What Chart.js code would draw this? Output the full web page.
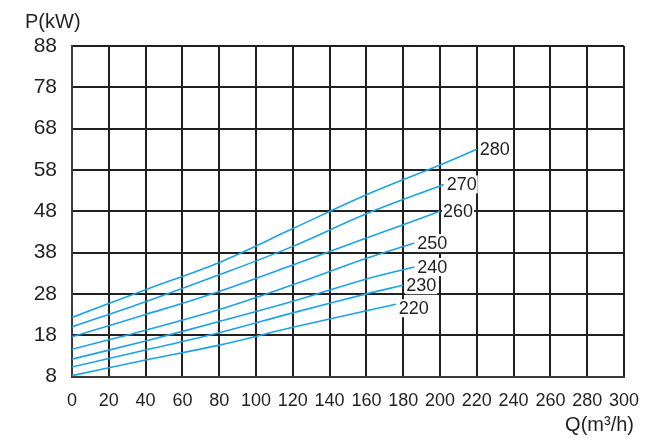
<!DOCTYPE html>
<html>
<head>
<meta charset="utf-8">
<script src="https://cdn.jsdelivr.net/npm/chart.js@4.4.1/dist/chart.umd.min.js"></script>
<style>
  html, body { margin: 0; padding: 0; background: #fff; }
  #wrap { width: 648px; height: 442px; position: relative; }
</style>
</head>
<body>
<div id="wrap"><canvas id="myChart"></canvas></div>
<script>
// Impeller diameters (curve labels)
const curveNames = ['220', '230', '240', '250', '260', '270', '280'];

// Flow Q (m3/h) and power P (kW)
const q220 = [0, 40, 80, 120, 160, 176];
const p220 = [8.2, 12.0, 15.6, 19.9, 23.9, 25.5];
const q230 = [0, 40, 80, 120, 160, 180];
const p230 = [10.3, 14.4, 18.6, 23.4, 28.0, 30.1];
const q240 = [0, 40, 80, 120, 160, 186];
const p240 = [12.2, 16.6, 21.3, 26.2, 31.6, 34.5];
const q250 = [0, 40, 80, 120, 160, 186];
const p250 = [14.6, 19.2, 24.2, 30.2, 36.6, 40.3];
const q260 = [0, 40, 80, 120, 160, 200];
const p260 = [17.6, 23.0, 28.6, 35.0, 41.5, 48.0];
const q270 = [0, 40, 80, 120, 160, 202];
const p270 = [20.0, 26.1, 32.6, 39.5, 47.4, 54.5];
const q280 = [0, 40, 80, 120, 160, 200, 220];
const p280 = [22.3, 29.0, 35.6, 43.8, 52.0, 59.2, 63.0];

// Axis ticks
const xTicks = [0, 20, 40, 60, 80, 100, 120, 140, 160, 180, 200, 220, 240, 260, 280, 300];
const yTicks = [8, 18, 28, 38, 48, 58, 68, 78, 88];

const qs = [q220, q230, q240, q250, q260, q270, q280];
const ps = [p220, p230, p240, p250, p260, p270, p280];

const lineColor = '#1ba3e6';
const gridColor = '#231f20';

const datasets = curveNames.map((name, i) => ({
    label: name,
    data: qs[i].map((q, j) => ({ x: q, y: ps[i][j] })),
    borderColor: lineColor,
    borderWidth: 1.6,
    pointRadius: 0,
    tension: 0.35,
    fill: false
}));

// Curve labels with a white box behind, placed after each line's end
const curveLabels = {
    id: 'curveLabels',
    afterDatasetsDraw(chart) {
        const ctx = chart.ctx;
        ctx.save();
        ctx.font = '18px "Liberation Sans", Arial, sans-serif';
        ctx.textBaseline = 'middle';
        ctx.textAlign = 'left';
        chart.data.datasets.forEach((ds, i) => {
            const pts = chart.getDatasetMeta(i).data;
            const last = pts[pts.length - 1];
            const x = last.x + 3;
            const y = last.y + (i === 0 ? 4 : 0);
            const w = ctx.measureText(ds.label).width;
            ctx.fillStyle = '#fff';
            ctx.fillRect(x - 1, y - 9, w + 2, 18);
            ctx.fillStyle = '#231f20';
            ctx.fillText(ds.label, x, y + 1);
        });
        ctx.restore();
    }
};

// Axis titles
const axisTitles = {
    id: 'axisTitles',
    afterDraw(chart) {
        const ctx = chart.ctx;
        ctx.save();
        ctx.fillStyle = '#231f20';
        ctx.font = '20px "Liberation Sans", Arial, sans-serif';
        ctx.textBaseline = 'middle';
        ctx.textAlign = 'left';
        ctx.fillText('P(kW)', 25, 22);
        ctx.textAlign = 'right';
        ctx.fillText('Q(m\u00b3/h)', 634, 425);
        ctx.restore();
    }
};

const ctx = document.getElementById('myChart').getContext('2d');
const myChart = new Chart(ctx, {
    type: 'line',
    data: { datasets },
    plugins: [curveLabels, axisTitles],
    options: {
        responsive: true,
        maintainAspectRatio: false,
        animation: false,
        layout: { padding: { top: 46, right: 24, left: 0, bottom: 0 } },
        plugins: {
            legend: { display: false },
            tooltip: { enabled: false }
        },
        scales: {
            x: {
                type: 'linear',
                min: 0,
                max: 300,
                afterBuildTicks: axis => { axis.ticks = xTicks.map(v => ({ value: v })); },
                afterFit: axis => {
                    axis.height = 65.5;
                    axis.paddingLeft = 0;
                    axis.paddingRight = 0;
                },
                grid: { color: gridColor, lineWidth: 2, drawTicks: false },
                border: { color: '#3a3a3a', width: 2 },
                ticks: {
                    color: '#231f20',
                    padding: 14,
                    maxRotation: 0,
                    autoSkip: false,
                    font: { family: '"Liberation Sans", Arial, sans-serif', size: 18 }
                }
            },
            y: {
                type: 'linear',
                min: 8,
                max: 88,
                afterBuildTicks: axis => { axis.ticks = yTicks.map(v => ({ value: v })); },
                afterFit: axis => {
                    axis.width = 72;
                    axis.paddingTop = 0;
                    axis.paddingBottom = 0;
                },
                grid: { color: gridColor, lineWidth: 2, drawTicks: false },
                border: { color: '#3a3a3a', width: 2 },
                ticks: {
                    color: '#231f20',
                    padding: 15,
                    autoSkip: false,
                    font: { family: '"Liberation Sans", Arial, sans-serif', size: 21 }
                }
            }
        }
    }
});
</script>
</body>
</html>
